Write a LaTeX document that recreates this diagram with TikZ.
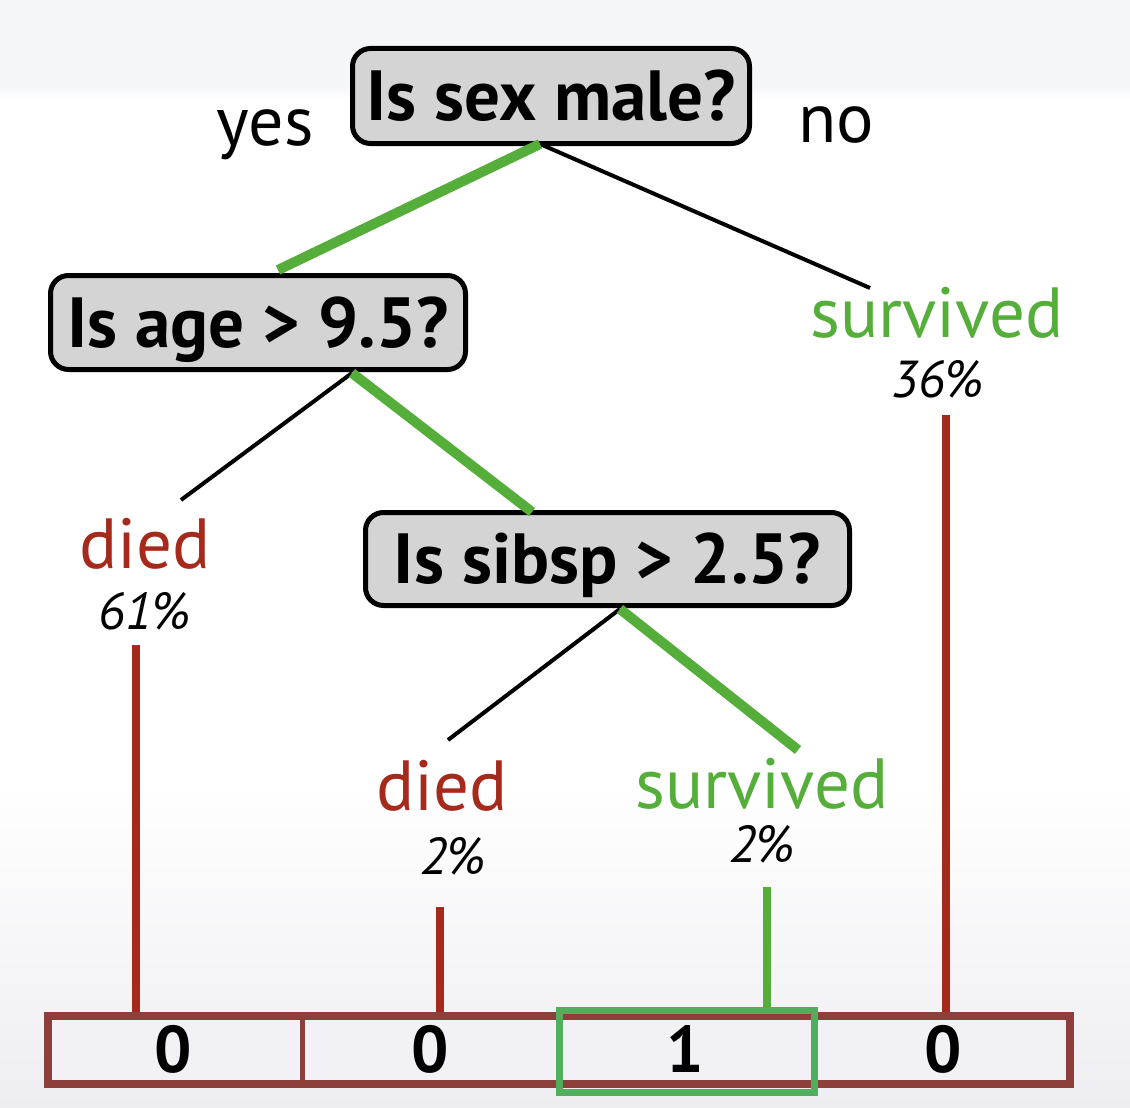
\documentclass[tikz,border=0pt]{standalone}
\usepackage{fontspec}
\setmainfont{PT Sans}
\usetikzlibrary{calc}
\definecolor{qfill}{HTML}{D4D4D4}
\definecolor{tgreen}{HTML}{55AD3A}
\definecolor{tred}{HTML}{A52A1C}
\definecolor{barred}{HTML}{8C3F3B}
\definecolor{bargreen}{HTML}{4FAF5C}
\definecolor{bgtop}{HTML}{F5F6F8}
\definecolor{bgbot}{HTML}{EEEEF2}
\definecolor{cellfill}{HTML}{F2F2F6}
\tikzset{
  question/.style={draw=black, line width=5pt, fill=qfill, rounded corners=18pt,
    inner sep=0pt, text height=49pt, text depth=0pt,
    font=\fontsize{71}{71}\selectfont\bfseries},
  answer/.style={inner sep=0pt, anchor=base, font=\fontsize{71}{71}\selectfont},
  pct/.style={inner sep=0pt, anchor=base, font=\fontsize{52}{52}\selectfont\itshape},
  yesno/.style={inner sep=0pt, anchor=base, font=\fontsize{70}{70}\selectfont},
  greenedge/.style={draw=tgreen, line width=10pt},
  blackedge/.style={draw=black, line width=4pt},
  redbar/.style={draw=tred, line width=8pt},
  greenbar/.style={draw=tgreen, line width=8pt},
  bar/.style={draw=barred, line width=8pt, fill=cellfill, inner sep=0pt},
  divider/.style={draw=barred, line width=5pt},
  digit/.style={inner sep=0pt, anchor=base, font=\fontsize{66}{66}\selectfont\bfseries},
  greencell/.style={draw=bargreen, line width=7pt, inner sep=0pt}
}
\begin{document}
\begin{tikzpicture}[x=1pt, y=-1pt]
\useasboundingbox (0,0) rectangle (1130,1108);
% background
\fill[white] (0,0) rectangle (1130,1108);
\fill[bgtop] (0,0) rectangle (1130,85);
\shade[top color=bgtop, bottom color=white] (0,85) rectangle (1130,100);
\shade[top color=white, bottom color=bgbot] (0,780) rectangle (1130,1108);

% question nodes
\node[question, minimum width=397pt, minimum height=95pt] (q1) at (551,96) {Is sex male?};
\node[question, minimum width=415pt, minimum height=94pt] (q2) at (258,322.5) {Is age > 9.5?};
\node[question, minimum width=484pt, minimum height=93pt] (q3) at (607.5,559) {Is sibsp > 2.5?};

% yes / no
\node[yesno] (yes) at (265,145) {yes};
\node[yesno] (no) at (836,142) {no};

% leaves
\node[answer, text=tgreen] (s1) at (937,337) {survived};
\node[pct] (p1) at (938,397) {36\%};
\node[answer, text=tred] (d1) at (145,568) {died};
\node[pct] (p2) at (145,629) {61\%};
\node[answer, text=tred] (d2) at (442,810) {died};
\node[pct] (p3) at (453,874) {2\%};
\node[answer, text=tgreen] (s2) at (762,808) {survived};
\node[pct] (p4) at (762,862) {2\%};

% connector coordinates
\coordinate (q1b) at (540,144);
\coordinate (q2t) at (278,270);
\coordinate (s1t) at (870,288);
\coordinate (q2b) at (352,373);
\coordinate (d1t) at (181,500);
\coordinate (q3t) at (532,512);
\coordinate (q3b) at (620,609);
\coordinate (d2t) at (448,740);
\coordinate (s2t) at (798,750);

\draw[blackedge] (q1b) -- (s1t);
\draw[greenedge] (q1b) -- (q2t);
\draw[blackedge] (q2b) -- (d1t);
\draw[greenedge] (q2b) -- (q3t);
\draw[blackedge] (q3b) -- (d2t);
\draw[greenedge] (q3b) -- (s2t);

% bottom bar
\node[bar, minimum width=1022pt, minimum height=68pt] (barbox) at (559,1050) {};
\coordinate (divt) at (302,1016);
\coordinate (divb) at (302,1084);
\draw[divider] (divt) -- (divb);
\node[greencell, minimum width=255pt, minimum height=82pt] (c3) at (687,1051.5) {};
\node[digit] (n1) at (173,1072) {0};
\node[digit] (n2) at (430,1072) {0};
\node[digit] (n3) at (685,1072) {1};
\node[digit] (n4) at (943,1072) {0};

% vertical bars
\coordinate (v1t) at (136,645);  \coordinate (v1b) at (136,1012);
\coordinate (v2t) at (440,907);  \coordinate (v2b) at (440,1012);
\coordinate (v3t) at (946,415);  \coordinate (v3b) at (946,1012);
\coordinate (v4t) at (767,887);  \coordinate (v4b) at (767,1008);
\draw[redbar] (v1t) -- (v1b);
\draw[redbar] (v2t) -- (v2b);
\draw[redbar] (v3t) -- (v3b);
\draw[greenbar] (v4t) -- (v4b);
\end{tikzpicture}
\end{document}
